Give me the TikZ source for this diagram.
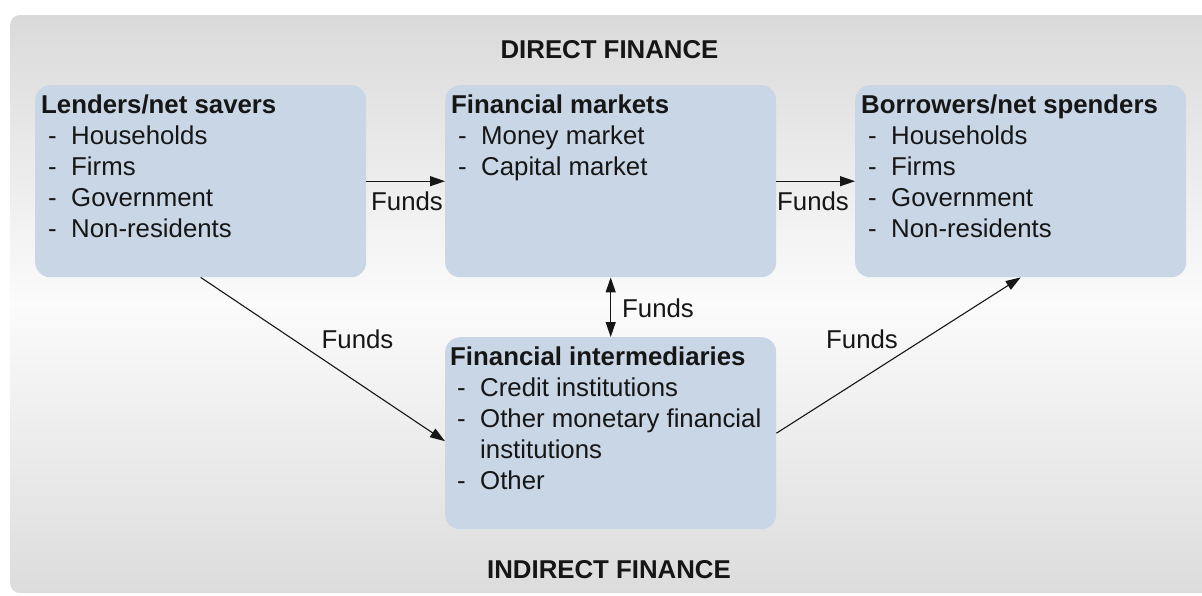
\documentclass[tikz,border=0pt]{standalone}
\usepackage{fontspec}
\setmainfont{Liberation Sans}
\usetikzlibrary{arrows.meta,calc}
\definecolor{boxfill}{RGB}{201,214,230}
\definecolor{txt}{RGB}{22,22,22}
\definecolor{bgtop}{RGB}{218,218,218}
\definecolor{bgmid}{RGB}{251,251,251}
\definecolor{bgbot}{RGB}{220,220,220}
\newcommand{\itm}[1]{\hspace*{7pt}\makebox[23pt][l]{-}#1}
\begin{document}
\begin{tikzpicture}[x=1pt,y=-1pt,
  box/.style={fill=boxfill, rounded corners=15pt, draw=none, inner sep=0pt, anchor=north west, minimum width=331pt, minimum height=192pt},
  boxtext/.style={anchor=north west, align=left, inner sep=0pt, text=txt, font=\fontsize{25.8}{31}\selectfont},
  lbl/.style={anchor=base, inner sep=0pt, text=txt, font=\fontsize{25.8}{30}\selectfont},
  ttl/.style={anchor=base, inner sep=0pt, text=txt, font=\fontsize{25.8}{30}\selectfont\bfseries},
  tip/.tip={Triangle[length=15pt,width=10pt]},
  arr/.style={draw=txt, line width=1.1pt, -tip},
  darr/.style={draw=txt, line width=1.1pt, tip-tip}]
\clip (0,0) rectangle (1202,595);
\fill[white] (0,0) rectangle (1202,595);
\shade[top color=bgtop, bottom color=bgbot, middle color=bgmid, rounded corners=10pt] (10,15) rectangle (1215,593);

\node[ttl] (direct) at (609.5,58) {DIRECT FINANCE};
\node[ttl] (indirect) at (609,578) {INDIRECT FINANCE};

\node[box] (lenders) at (35,85) {};
\node[box] (fm) at (445,85) {};
\node[box] (borrowers) at (855,85) {};
\node[box] (fi) at (445,337) {};

\node[boxtext] (lenderstxt) at (41,93) {\rule{0pt}{20pt}\textbf{Lenders/net savers}\\\itm{Households}\\\itm{Firms}\\\itm{Government}\\\itm{Non-residents}};
\node[boxtext] (fmtxt) at (451,93) {\rule{0pt}{20pt}\textbf{Financial markets}\\\itm{Money market}\\\itm{Capital market}};
\node[boxtext] (borrowerstxt) at (861,93) {\rule{0pt}{20pt}\textbf{Borrowers/net spenders}\\\itm{Households}\\\itm{Firms}\\\itm{Government}\\\itm{Non-residents}};
\node[boxtext] (fitxt) at (450,345) {\rule{0pt}{20pt}\textbf{Financial intermediaries}\\\itm{Credit institutions}\\\itm{Other monetary financial}\\\hspace*{30pt}institutions\\\itm{Other}};

\draw[arr] (lenders) -- (fm);
\draw[arr] (fm) -- (borrowers);
\draw[darr] (fm) -- (fi);
\draw[arr] (lenders.south) -- ([yshift=-8pt]fi.west);
\draw[arr] (fi.east) -- (borrowers.south);

\node[lbl] (f1) at (407,210) {Funds};
\node[lbl] (f2) at (813,210) {Funds};
\node[lbl] (f3) at (658,317) {Funds};
\node[lbl] (f4) at (357.5,348) {Funds};
\node[lbl] (f5) at (862,348) {Funds};
\end{tikzpicture}
\end{document}
